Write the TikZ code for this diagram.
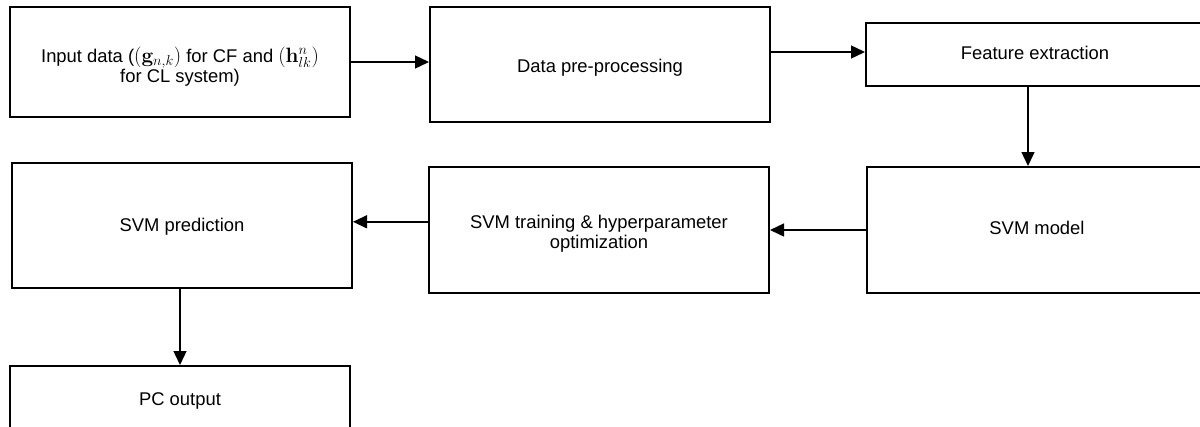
\documentclass[tikz,border=0pt]{standalone}
\usepackage[no-math]{fontspec}
\setmainfont{Liberation Sans}
\usetikzlibrary{arrows.meta}
\newcommand\boxtxt[2][0pt]{\raisebox{-#1}[\height][\depth]{\begin{tabular}{@{}c@{}}#2\end{tabular}}}
\newcommand\bigmath[1]{{\fontsize{20.74}{20.5}\selectfont$#1$}}
\begin{document}
\begin{tikzpicture}[x=1pt,y=-1pt,
  stepbox/.style={draw=black,line width=2pt,rectangle,inner sep=0pt,align=center,
    font=\fontsize{18.4}{20.5}\selectfont},
  arr/.style={line width=1.4pt,-{Triangle[length=14pt,width=13pt]}}]
\useasboundingbox (0,0) rectangle (1200,426);
\clip (0,0) rectangle (1200,426);
\node[stepbox,minimum width=340pt,minimum height=110pt] (b1) at (180,62)
  {\boxtxt[6pt]{Input data (\bigmath{(\mathbf{g}_{n,k})} for CF and \bigmath{(\mathbf{h}_{lk}^{n})}\\for CL system)}};
\node[stepbox,minimum width=340pt,minimum height=115pt] (b2) at (600,64.5) {\boxtxt[3.5pt]{Data pre-processing}};
\node[stepbox,minimum width=338pt,minimum height=63pt] (b3) at (1035,54.5) {\boxtxt[1pt]{Feature extraction}};
\node[stepbox,minimum width=340pt,minimum height=126pt] (b6) at (1037,230) {\boxtxt{SVM model}};
\node[stepbox,minimum width=340pt,minimum height=126pt] (b5) at (599,230) {\boxtxt[4.5pt]{SVM training \& hyperparameter\\optimization}};
\node[stepbox,minimum width=340pt,minimum height=125pt] (b4) at (182,225.8) {\boxtxt[2pt]{SVM prediction}};
\node[stepbox,minimum width=340pt,minimum height=66pt] (b7) at (180,399) {\boxtxt[2pt]{PC output}};
\draw[arr] (b1.east) -- (b1.east -| b2.west);
\draw[arr] ([yshift=2.5pt]b2.east |- b3.west) -- ([yshift=2.5pt]b3.west);
\draw[arr] ([xshift=-7pt]b3.south) -- ([xshift=-7pt]b3.south |- b6.north);
\draw[arr] (b6.west) -- (b6.west -| b5.east);
\draw[arr] ([yshift=4pt]b5.west |- b4.east) -- ([yshift=4pt]b4.east);
\draw[arr] (b4.south -| b7.north) -- (b7.north);
\end{tikzpicture}
\end{document}
